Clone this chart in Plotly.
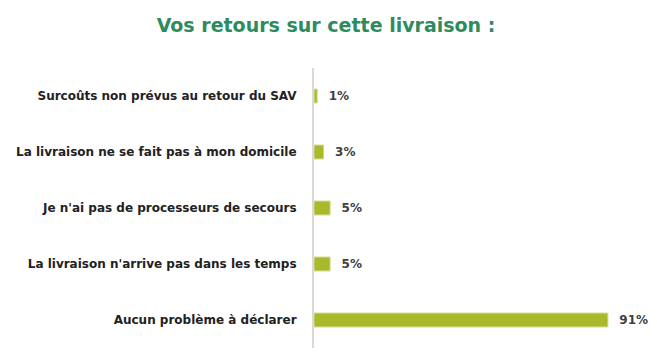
import plotly.graph_objects as go

categories = [
    "Surcoûts non prévus au retour du SAV",
    "La livraison ne se fait pas à mon domicile",
    "Je n'ai pas de processeurs de secours",
    "La livraison n'arrive pas dans les temps",
    "Aucun problème à déclarer",
]
values = [1, 3, 5, 5, 91]
value_labels = ["1%", "3%", "5%", "5%", "91%"]

fig = go.Figure(go.Bar(
    y=categories,
    x=values,
    orientation="h",
    text=value_labels,
    texttemplate="\u2002\u2009%{text}",
    textposition="outside",
    constraintext="none",
    cliponaxis=False,
    textfont=dict(family="DejaVu Sans", size=12, color="#404040", weight="bold"),
    marker=dict(color="#a9b92b", line=dict(color="#d6dd9a", width=1)),
    width=0.25,
    hoverinfo="skip",
))

fig.update_layout(
    width=649, height=352,
    margin=dict(l=306, r=20, t=60, b=12, autoexpand=False),
    paper_bgcolor="white", plot_bgcolor="white",
    title=dict(
        text="Vos retours sur cette livraison :",
        x=318 / 649, xanchor="center", xref="container",
        y=1 - 17 / 352, yanchor="middle", yref="container",
        font=dict(family="DejaVu Sans", size=19, color="#2e8b5e", weight="bold"),
    ),
    xaxis=dict(range=[0, 100], visible=False, automargin=False),
    yaxis=dict(
        autorange="reversed", automargin=False,
        showline=True, linecolor="#d9d9d9", linewidth=2,
        showgrid=False, ticks="", ticklabelstandoff=13,
        tickfont=dict(family="DejaVu Sans", size=12, color="#222222", weight="bold"),
    ),
    showlegend=False,
)

fig.write_html("out.html")
